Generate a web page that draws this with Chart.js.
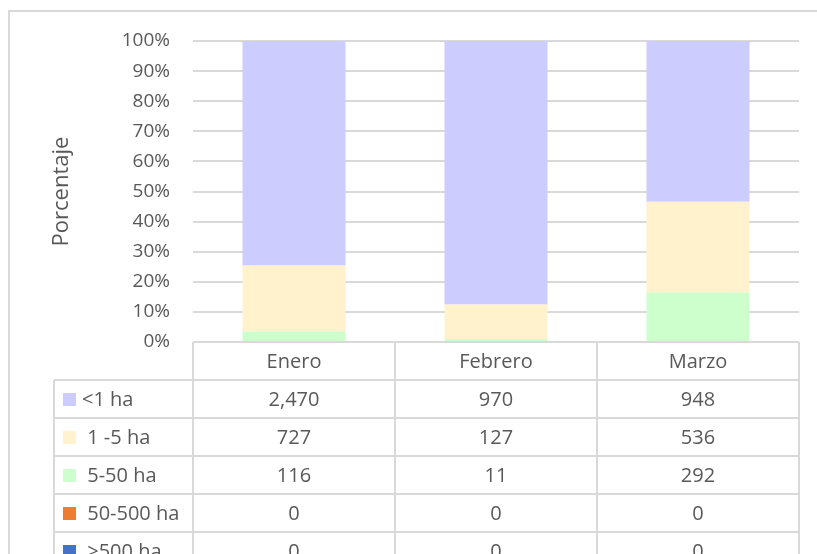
<!DOCTYPE html>
<html>
<head>
<meta charset="utf-8">
<script src="https://cdn.jsdelivr.net/npm/chart.js@4"></script>
<style>
  html, body { margin: 0; padding: 0; background: #fff; }
  #wrap { width: 817px; height: 554px; }
</style>
</head>
<body>
<div id="wrap"><canvas id="chart" width="817" height="554"></canvas></div>
<script>
const months = ['Enero', 'Febrero', 'Marzo'];
const seriesNames = ['<1 ha', ' 1 -5 ha', ' 5-50 ha', ' 50-500 ha', ' >500 ha'];
const seriesColors = ['#ccccff', '#fff2cc', '#ccffcc', '#ed7d31', '#4472c4'];
const lessThan1 = [2470, 970, 948];
const from1to5 = [727, 127, 536];
const from5to50 = [116, 11, 292];
const from50to500 = [0, 0, 0];
const over500 = [0, 0, 0];
const yTicks = [0, 10, 20, 30, 40, 50, 60, 70, 80, 90, 100];

const counts = [lessThan1, from1to5, from5to50, from50to500, over500];
const totals = months.map((m, i) => counts.reduce((s, arr) => s + arr[i], 0));

const FONT = '"Open Sans", Lato, sans-serif';
const TEXT = '#595959';
const LINE = '#d9d9d9';

// stacked bottom-up: 5-50 at bottom, <1 on top (as in the original)
const stackOrder = [2, 1, 0, 3, 4];
const datasets = stackOrder.map(k => ({
    label: seriesNames[k],
    backgroundColor: seriesColors[k],
    data: counts[k].map((v, i) => v / totals[i] * 100),
    barPercentage: 0.51,
    categoryPercentage: 1,
}));

const tablePlugin = {
    id: 'dataTable',
    beforeDraw(chart) {
        const ctx = chart.ctx;
        ctx.save();
        ctx.strokeStyle = LINE;
        ctx.lineWidth = 2;
        ctx.strokeRect(9, 11, 1000, 1000);
        ctx.restore();
    },
    afterDraw(chart) {
        const ctx = chart.ctx;
        const area = chart.chartArea;
        const x = chart.scales.x;
        const rowH = 38;
        const legendLeft = 54;
        const top = area.bottom;
        const colW = (area.right - area.left) / months.length;
        ctx.save();
        ctx.strokeStyle = LINE;
        ctx.lineWidth = 2;
        ctx.beginPath();
        // header row
        ctx.moveTo(area.left, top); ctx.lineTo(area.right, top);
        ctx.moveTo(area.left, top); ctx.lineTo(area.left, top + rowH * 6);
        ctx.moveTo(area.right, top); ctx.lineTo(area.right, top + rowH * 6);
        for (let i = 1; i < months.length; i++) {
            const cx = area.left + colW * i;
            ctx.moveTo(cx, top); ctx.lineTo(cx, top + rowH * 6);
        }
        for (let r = 1; r <= 6; r++) {
            ctx.moveTo(legendLeft, top + rowH * r); ctx.lineTo(area.right, top + rowH * r);
        }
        ctx.moveTo(legendLeft, top + rowH); ctx.lineTo(legendLeft, top + rowH * 6);
        ctx.stroke();

        ctx.fillStyle = TEXT;
        ctx.font = '20px ' + FONT;
        ctx.textAlign = 'center';
        ctx.textBaseline = 'middle';
        months.forEach((m, i) => {
            ctx.fillText(m, x.getPixelForValue(i), top + rowH / 2 + 1);
        });
        seriesNames.forEach((name, k) => {
            const cy = top + rowH * (k + 1) + rowH / 2 + 1;
            ctx.fillStyle = seriesColors[k];
            ctx.fillRect(63, cy - 7, 13, 13);
            ctx.fillStyle = TEXT;
            ctx.textAlign = 'left';
            ctx.fillText(name, 82, cy);
            ctx.textAlign = 'center';
            counts[k].forEach((v, i) => {
                ctx.fillText(v.toLocaleString('en-US'), x.getPixelForValue(i), cy);
            });
        });
        ctx.restore();
    }
};

new Chart(document.getElementById('chart'), {
    type: 'bar',
    data: { labels: months, datasets },
    plugins: [tablePlugin],
    options: {
        responsive: false,
        animation: false,
        layout: { padding: { left: 0, top: 41, right: 18, bottom: 212 } },
        plugins: { legend: { display: false }, tooltip: { enabled: false } },
        scales: {
            x: {
                stacked: true,
                display: false,
            },
            y: {
                stacked: true,
                min: 0,
                max: 100,
                afterFit(scale) { scale.width = 193; },
                afterBuildTicks(scale) { scale.ticks = yTicks.map(v => ({ value: v })); },
                border: { display: false },
                grid: { color: LINE, lineWidth: 2, drawTicks: false },
                ticks: {
                    padding: 23,
                    color: TEXT,
                    font: { family: FONT, size: 19 },
                    callback: v => v + '%',
                },
                title: {
                    display: true,
                    text: 'Porcentaje',
                    color: TEXT,
                    font: { family: FONT, size: 22 },
                    padding: { top: 49 },
                },
            },
        },
    },
});
</script>
</body>
</html>
